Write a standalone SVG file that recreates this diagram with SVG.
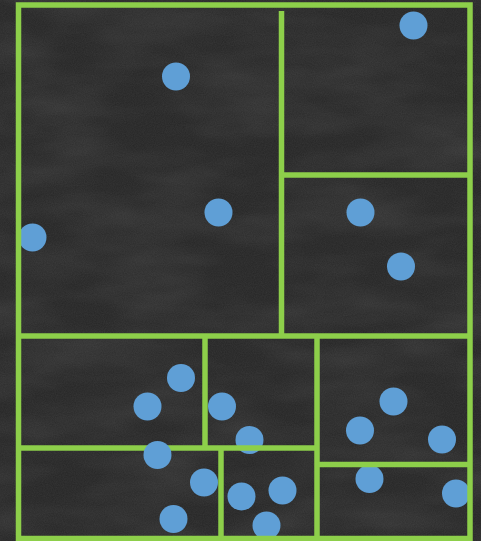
<svg xmlns="http://www.w3.org/2000/svg" width="481" height="541" viewBox="0 0 481 541">
  <defs>
    <filter id="chalk" x="0" y="0" width="100%" height="100%">
      <feTurbulence type="fractalNoise" baseFrequency="0.9" numOctaves="2" seed="3" result="n"/>
      <feColorMatrix in="n" type="matrix" values="0 0 0 0 1  0 0 0 0 1  0 0 0 0 1  0 0 0 0.07 0"/>
    </filter>
    <filter id="smudge" x="0" y="0" width="100%" height="100%">
      <feTurbulence type="fractalNoise" baseFrequency="0.01 0.03" numOctaves="3" seed="7" result="n"/>
      <feColorMatrix in="n" type="matrix" values="0 0 0 0 1  0 0 0 0 1  0 0 0 0 1  0 0 0 0.12 -0.04"/>
    </filter>
    <style>
      .ln { stroke: #8dcf4a; stroke-width: 5.5; fill: none; stroke-linecap: butt; }
      .pt { fill: #5f9fd6; }
    </style>
  </defs>

  <rect width="481" height="541" fill="#262626"/>
  <rect width="481" height="541" filter="url(#smudge)"/>
  <rect width="481" height="541" filter="url(#chalk)"/>

  <g id="points">
    <circle class="pt" cx="176" cy="76.5" r="14"/>
    <circle class="pt" cx="413.5" cy="25.5" r="14"/>
    <circle class="pt" cx="32.5" cy="237.5" r="14"/>
    <circle class="pt" cx="218.5" cy="212.5" r="14"/>
    <circle class="pt" cx="360.5" cy="212.5" r="14"/>
    <circle class="pt" cx="401" cy="266.5" r="14"/>
    <circle class="pt" cx="181" cy="378" r="14"/>
    <circle class="pt" cx="147.5" cy="406.5" r="14"/>
    <circle class="pt" cx="222" cy="406.5" r="14"/>
    <circle class="pt" cx="249.5" cy="440" r="14"/>
    <circle class="pt" cx="204" cy="482.5" r="14"/>
    <circle class="pt" cx="173.5" cy="519" r="14"/>
    <circle class="pt" cx="241.5" cy="496.5" r="14"/>
    <circle class="pt" cx="282.5" cy="490.5" r="14"/>
    <circle class="pt" cx="266.5" cy="525.5" r="14"/>
    <circle class="pt" cx="393.5" cy="401.5" r="14"/>
    <circle class="pt" cx="360" cy="430.5" r="14"/>
    <circle class="pt" cx="442" cy="439.5" r="14"/>
    <circle class="pt" cx="369.5" cy="479" r="14"/>
    <circle class="pt" cx="456" cy="493.5" r="14"/>
  </g>

  <g id="connectors">
    <rect class="ln" x="18.5" y="5" width="451.5" height="533.5"/>
    <path class="ln" d="M281.5 11 V336"/>
    <path class="ln" d="M281.5 175 H470"/>
    <path class="ln" d="M18.5 336 H470"/>
    <path class="ln" d="M205 336 V448"/>
    <path class="ln" d="M317 336 V538.5"/>
    <path class="ln" d="M18.5 448 H317"/>
    <path class="ln" d="M221 448 V538.5"/>
    <path class="ln" d="M317 464.5 H470"/>
  </g>

  <g id="node-top-left"><rect x="21" y="8" width="258" height="326" fill="none"/></g>
  <g id="node-top-right-a"><rect x="284" y="8" width="183" height="165" fill="none"/></g>
  <g id="node-top-right-b"><rect x="284" y="178" width="183" height="156" fill="none"/></g>
  <g id="node-mid-left"><rect x="21" y="339" width="182" height="107" fill="none"/></g>
  <g id="node-mid-center"><rect x="208" y="339" width="107" height="107" fill="none"/></g>
  <g id="node-bot-left"><rect x="21" y="451" width="198" height="85" fill="none"/></g>
  <g id="node-bot-center"><rect x="224" y="451" width="91" height="85" fill="none"/></g>
  <g id="node-right-upper"><rect x="320" y="339" width="147" height="123" fill="none"/></g>
  <g id="node-right-lower"><rect x="320" y="467" width="147" height="69" fill="none"/></g>

  <circle class="pt" cx="157.5" cy="455" r="14"/>
</svg>
